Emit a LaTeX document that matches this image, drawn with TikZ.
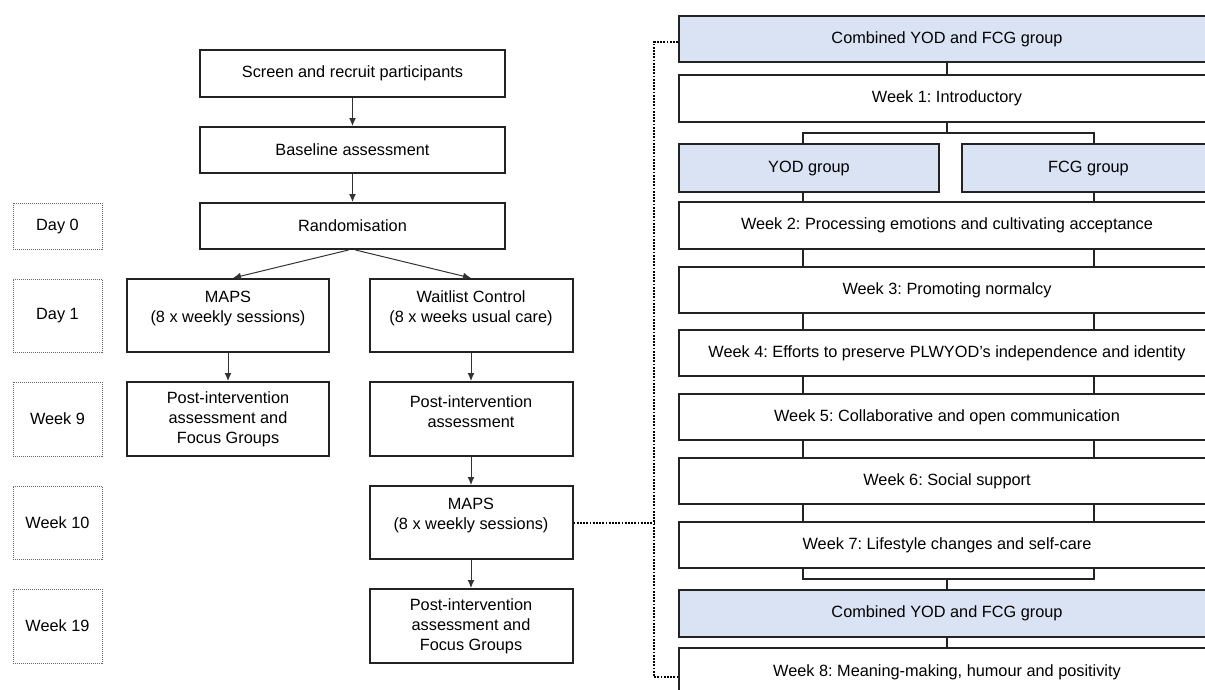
\documentclass[tikz,border=0pt]{standalone}
\usepackage{fontspec}
\setmainfont{Liberation Sans}
\usetikzlibrary{arrows.meta}
\definecolor{boxblue}{RGB}{218,227,243}
\definecolor{edge}{RGB}{35,35,35}
\frenchspacing
\begin{document}
\begin{tikzpicture}[x=1pt,y=-1pt,
  font=\fontsize{16.3}{20}\selectfont\frenchspacing,
  box/.style={draw=edge, line width=2pt, align=center, inner sep=0pt, fill=white},
  bluebox/.style={box, fill=boxblue},
  daybox/.style={draw=black!60, line width=1pt, dash pattern=on 1pt off 1pt, align=center, inner sep=0pt},
  arr/.style={draw=black!80, line width=1pt, -{Latex[length=8pt,width=7pt]}},
  conn/.style={draw=edge, line width=2pt},
  dotc/.style={draw=black, line width=2pt, dash pattern=on 1.8pt off 1.4pt},
  up/.style={label={[yshift=7pt, align=center]center:#1}}
]
\useasboundingbox (0,0) rectangle (1205,689);
\clip (0,0) rectangle (1205,689);
\fill[white] (0,0) rectangle (1205,689);

% left flow
\node[box, minimum width=305pt, minimum height=47pt] (scr) at (352.5,73.5) {Screen and recruit participants};
\node[box, minimum width=305pt, minimum height=46pt] (base) at (352.5,150) {Baseline assessment};
\node[box, minimum width=305pt, minimum height=46pt] (rand) at (352.5,226) {Randomisation};
\node[box, minimum width=202pt, minimum height=73pt, up={MAPS\\(8 x weekly sessions)}] (maps1) at (228,315.5) {};
\node[box, minimum width=203pt, minimum height=73pt, up={Waitlist Control\\(8 x weeks usual care)}] (wait) at (471,315.5) {};
\node[box, minimum width=202pt, minimum height=74pt] (post1) at (228,419) {Post-intervention\\assessment and\\Focus Groups};
\node[box, minimum width=203pt, minimum height=74pt, up={Post-intervention\\assessment}] (post2) at (471,419) {};
\node[box, minimum width=203pt, minimum height=73pt, up={MAPS\\(8 x weekly sessions)}] (maps2) at (471,522.5) {};
\node[box, minimum width=203pt, minimum height=74pt] (post3) at (471,626) {Post-intervention\\assessment and\\Focus Groups};

% time labels
\node[daybox, minimum width=89pt, minimum height=46pt] (d0) at (57.5,226) {Day 0};
\node[daybox, minimum width=89pt, minimum height=73pt] (d1) at (57.5,315.5) {Day 1};
\node[daybox, minimum width=89pt, minimum height=74pt] (d9) at (57.5,419) {Week 9};
\node[daybox, minimum width=89pt, minimum height=73pt] (d10) at (57.5,522.5) {Week 10};
\node[daybox, minimum width=89pt, minimum height=74pt] (d19) at (57.5,626) {Week 19};

\draw[arr] (scr.south) -- (base.north);
\draw[arr] (base.south) -- (rand.north);
\draw[arr] ([xshift=-4pt]rand.south) -- ([xshift=5pt]maps1.north);
\draw[arr] ([xshift=3pt]rand.south) -- (wait.north);
\draw[arr] (maps1.south) -- (post1.north);
\draw[arr] (wait.south) -- (post2.north);
\draw[arr] (post2.south) -- (maps2.north);
\draw[arr] (maps2.south) -- (post3.north);

% right panel
\node[bluebox, minimum width=536pt, minimum height=46pt] (c1) at (947,39) {Combined YOD and FCG group};
\node[box, minimum width=536pt, minimum height=47pt] (w1) at (947,98.5) {Week 1: Introductory};
\node[bluebox, minimum width=260pt, minimum height=48pt] (yod) at (809,168) {YOD group};
\node[bluebox, minimum width=253pt, minimum height=48pt] (fcg) at (1088.5,168) {FCG group};
\node[box, minimum width=536pt, minimum height=47pt] (w2) at (947,225.5) {Week 2: Processing emotions and cultivating acceptance};
\node[box, minimum width=536pt, minimum height=46pt] (w3) at (947,290) {Week 3: Promoting normalcy};
\node[box, minimum width=536pt, minimum height=46pt] (w4) at (947,353) {Week 4: Efforts to preserve PLWYOD’s independence and identity};
\node[box, minimum width=536pt, minimum height=46pt] (w5) at (947,417) {Week 5: Collaborative and open communication};
\node[box, minimum width=536pt, minimum height=46pt] (w6) at (947,481) {Week 6: Social support};
\node[box, minimum width=536pt, minimum height=46pt] (w7) at (947,545) {Week 7: Lifestyle changes and self-care};
\node[bluebox, minimum width=536pt, minimum height=47pt] (c2) at (947,613.5) {Combined YOD and FCG group};
\node[box, minimum width=536pt, minimum height=48pt] (w8) at (947,672) {Week 8: Meaning-making, humour and positivity};

\coordinate (L) at (803,0);
\coordinate (R) at (1094,0);
\coordinate (b1) at (0,133);
\coordinate (b2) at (0,579);

\draw[conn] (c1.south) -- (w1.north);
\draw[conn] (w1.south) -- (w1.south |- b1);
\draw[conn] (L |- yod.north) -- (L |- b1) -- (R |- b1) -- (R |- fcg.north);
\draw[conn] (L |- yod.south) -- (L |- w2.north);
\draw[conn] (R |- fcg.south) -- (R |- w2.north);
\foreach \a/\b in {w2/w3,w3/w4,w4/w5,w5/w6,w6/w7}{
  \draw[conn] (L |- \a.south) -- (L |- \b.north);
  \draw[conn] (R |- \a.south) -- (R |- \b.north);
}
\draw[conn] (L |- w7.south) -- (L |- b2) -- (R |- b2) -- (R |- w7.south);
\draw[conn] (c2.north |- b2) -- (c2.north);
\draw[conn] (c2.south) -- (w8.north);

% dotted links
\coordinate (dv) at (654,0);
\coordinate (dbot) at (654,677);
\draw[dotc] (maps2.east) -- (dv |- maps2.east);
\draw[dotc] (c1.west |- 0,42) -- (dv |- 0,42) -- (dbot) -- (w8.west |- dbot);
\end{tikzpicture}
\end{document}
